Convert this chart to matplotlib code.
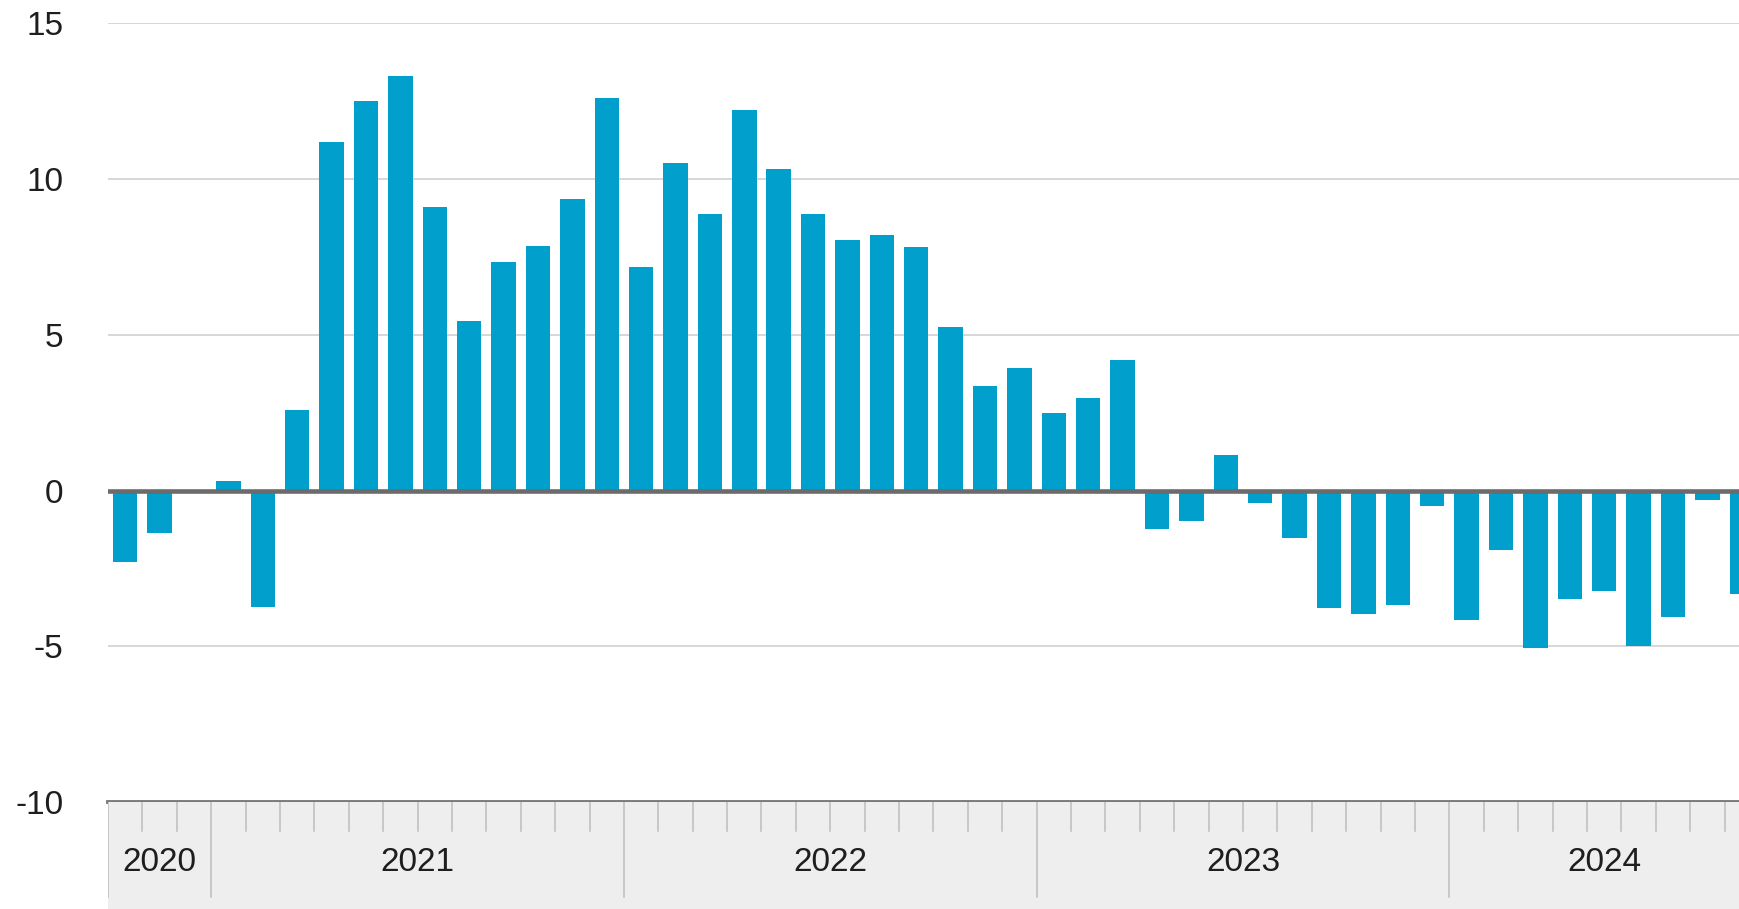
import matplotlib
matplotlib.use('Agg')
import matplotlib.pyplot as plt
import numpy as np

plt.rcParams['font.family'] = ['Liberation Sans', 'DejaVu Sans']

# ---- data ----
months = (['2020-10', '2020-11', '2020-12'] +
          ['2021-%02d' % m for m in range(1, 13)] +
          ['2022-%02d' % m for m in range(1, 13)] +
          ['2023-%02d' % m for m in range(1, 13)] +
          ['2024-%02d' % m for m in range(1, 10)])
values = [-2.3, -1.35, 0.0,
          0.3, -3.75, 2.6, 11.2, 12.5, 13.3, 9.1, 5.45, 7.35, 7.85, 9.37, 12.6,
          7.17, 10.52, 8.88, 12.23, 10.31, 8.88, 8.03, 8.21, 7.83, 5.26, 3.34, 3.92,
          2.48, 2.96, 4.2, -1.23, -0.97, 1.14, -0.39, -1.52, -3.78, -3.97, -3.68, -0.49,
          -4.16, -1.92, -5.07, -3.49, -3.23, -5.0, -4.07, -0.31, -3.31]
years = ['2020', '2021', '2022', '2023', '2024']
yticks = [-10, -5, 0, 5, 10, 15]
ytick_labels = ['-10', '-5', '0', '5', '10', '15']

# ---- layout ----
W, H = 1740, 909
L = 108 / W
B = 1 - 802 / H
T = 1 - 23.3 / H
XMAX = 46.95

fig = plt.figure(figsize=(W / 100, H / 100), dpi=100)
ax = fig.add_axes([L, B, 1 - L, T - B])
x = np.arange(len(values))
ax.bar(x, values, width=0.71, color='#009FCC', zorder=2)
ax.set_xlim(-0.5, XMAX)
ax.set_ylim(-10, 15)
ax.set_yticks(yticks)
ax.set_yticklabels(ytick_labels)
for y in yticks:
    if y not in (0, -10):
        ax.axhline(y, color='#D4D4D4', lw=1.3, zorder=1)
ax.axhline(0, color='#6B6B6B', lw=3.3, zorder=3)
ax.axhline(-10, color='#7A7A7A', lw=2.8, zorder=4, clip_on=False)
for s in ax.spines.values():
    s.set_visible(False)
ax.set_xticks([])
ax.tick_params(axis='y', length=0, pad=32, labelsize=24, labelcolor='#1E1E1E')

# ---- year band ----
bx = fig.add_axes([L, 0, 1 - L, B])
bx.set_facecolor('#EEEEEE')
bx.set_xlim(-0.5, XMAX)
bx.set_ylim(0, 1)
for s in bx.spines.values():
    s.set_visible(False)
bx.set_xticks([])
bx.set_yticks([])

year_of = [m[:4] for m in months]
bounds = [-0.5]
for i in range(1, len(months)):
    if year_of[i] != year_of[i - 1]:
        bounds.append(i - 0.5)
for i in range(len(months) - 1):
    p = i + 0.5
    if p in bounds:
        continue
    bx.plot([p, p], [0.73, 1.0], color='#BDBDBD', lw=1.1)
for p in bounds:
    bx.plot([p, p], [0.11, 1.0], color='#BDBDBD', lw=1.1)
ends = bounds[1:] + [len(months) - 0.5]
for yr, a, b in zip(years, bounds, ends):
    bx.text((a + b) / 2, 0.43, yr, ha='center', va='center', fontsize=24, color='#1E1E1E')

fig.savefig('out.png', dpi=100)
